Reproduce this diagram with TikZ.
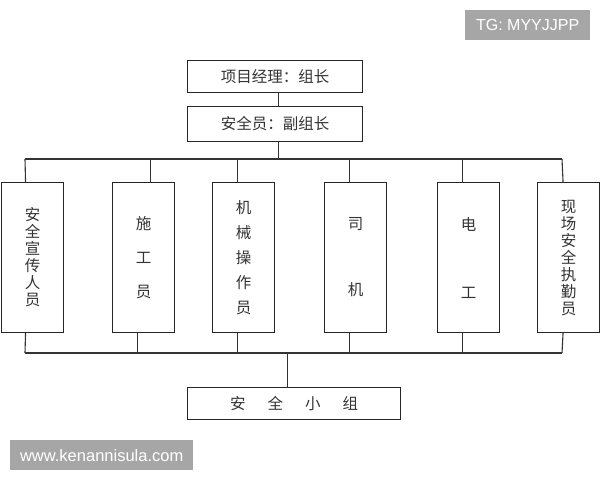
\documentclass[tikz,border=0pt]{standalone}
\usepackage{fontspec}
\newfontfamily\cjk{Noto Sans CJK SC}
\newfontfamily\wmfont{Liberation Sans}
\begin{document}
\begin{tikzpicture}[x=1pt,y=-1pt,
  box/.style={draw=black!85, line width=1.1pt, fill=white, inner sep=0pt, anchor=north west, text=black!80, font=\cjk\fontsize{15.5}{17}\selectfont, align=center},
  vbox/.style={box, minimum width=62pt, minimum height=150pt},
  hbox/.style={box, minimum width=175pt, minimum height=33pt},
  conn/.style={draw=black!80, line width=1.1pt},
  wm/.style={fill=black!35, text=white, inner sep=0pt, anchor=north west, font=\wmfont\fontsize{16}{18}\selectfont}]
\useasboundingbox (0,0) rectangle (600,480);
% watermarks
\node[wm, minimum width=125pt, minimum height=30pt] (tg) at (465,10) {TG: MYYJJPP};
\node[wm, minimum width=183pt, minimum height=30pt, font=\wmfont\fontsize{16.5}{18}\selectfont] (www) at (10,440) {www.kenannisula.com};
% top boxes
\node[hbox, minimum height=32pt] (pm) at (187,60) {项目经理：组长};
\node[hbox, minimum height=35pt] (sa) at (187,106) {安全员：副组长};
% vertical boxes
\node[vbox] (b1) at (1,182) {安\\全\\宣\\传\\人\\员};
\node[vbox, font=\cjk\fontsize{15.5}{34}\selectfont] (b2) at (112,182) {施\\工\\员};
\node[vbox, font=\cjk\fontsize{15.5}{25}\selectfont] (b3) at (212,182) {机\\械\\操\\作\\员};
\node[vbox, font=\cjk\fontsize{15.5}{66}\selectfont] (b4) at (324,182) {司\\机};
\node[vbox, font=\cjk\fontsize{15.5}{68}\selectfont] (b5) at (437,182) {电\\工};
\node[vbox] (b6) at (537,182) {现\\场\\安\\全\\执\\勤\\员};
% bottom box
\node[box, minimum width=213pt, minimum height=32pt] (grp) at (187,387) {安\hspace{22pt}全\hspace{22pt}小\hspace{22pt}组};
% bus coordinates
\coordinate (tl) at (25,159);
\coordinate (tr) at (562,159);
\coordinate (bl) at (25,353);
\coordinate (br) at (562,353);
% connectors
\draw[conn] ([xshift=3.5pt]pm.south) -- ([xshift=3.5pt]sa.north);
\draw[conn] ([xshift=3.5pt]sa.south) -- ([xshift=3.5pt]sa.south |- tl);
\draw[conn] (tl) -- (tr);
\draw[conn] (bl) -- (br);
\draw[conn] (tl) -- ([xshift=-7pt]b1.north);
\draw[conn] ([xshift=6.5pt]b2.north) -- ([xshift=6.5pt]b2.north |- tl);
\draw[conn] ([xshift=-6.5pt]b3.north) -- ([xshift=-6.5pt]b3.north |- tl);
\draw[conn] ([xshift=-6.5pt]b4.north) -- ([xshift=-6.5pt]b4.north |- tl);
\draw[conn] ([xshift=-6pt]b5.north) -- ([xshift=-6pt]b5.north |- tl);
\draw[conn] (tr) -- ([xshift=-5.5pt]b6.north);
\draw[conn] (bl) -- ([xshift=-7pt]b1.south);
\draw[conn] ([xshift=-6.5pt]b2.south) -- ([xshift=-6.5pt]b2.south |- bl);
\draw[conn] ([xshift=-6.5pt]b3.south) -- ([xshift=-6.5pt]b3.south |- bl);
\draw[conn] ([xshift=-6.5pt]b4.south) -- ([xshift=-6.5pt]b4.south |- bl);
\draw[conn] ([xshift=-6pt]b5.south) -- ([xshift=-6pt]b5.south |- bl);
\draw[conn] (br) -- ([xshift=-5.5pt]b6.south);
\draw[conn] ([xshift=-6.5pt]grp.north) -- ([xshift=-6.5pt]grp.north |- bl);
\end{tikzpicture}
\end{document}
